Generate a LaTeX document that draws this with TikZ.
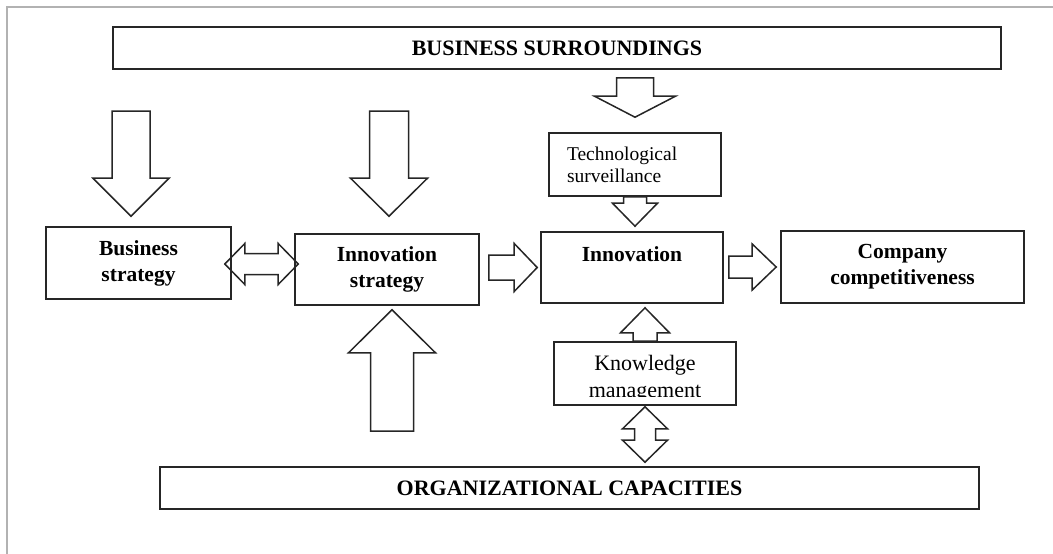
\documentclass[tikz,border=0pt]{standalone}
\usepackage{fontspec}
\setmainfont{Liberation Serif}
\usetikzlibrary{calc}

\begin{document}
\begin{tikzpicture}[
x=1pt,y=-1pt,
box/.style={rectangle, draw=black!85, line width=1.6pt, inner sep=0pt, align=center},
band/.style={box, minimum height=42pt, font=\fontsize{22}{26}\selectfont\bfseries},
bold/.style={box, font=\fontsize{21.5}{26}\selectfont\bfseries},
frame/.style={draw=gray!60, line width=1.2pt},
fat/.style args={#1/#2/#3}{draw=black!85, line width=1.5pt, line join=miter, to path={
  ($(\tikztostart)!#1!90:(\tikztotarget)$)
  -- ($($(\tikztotarget)!#3!(\tikztostart)$)!#1!90:(\tikztotarget)$)
  -- ($($(\tikztotarget)!#3!(\tikztostart)$)!#2!90:(\tikztotarget)$)
  -- (\tikztotarget)
  -- ($($(\tikztotarget)!#3!(\tikztostart)$)!#2!-90:(\tikztotarget)$)
  -- ($($(\tikztotarget)!#3!(\tikztostart)$)!#1!-90:(\tikztotarget)$)
  -- ($(\tikztostart)!#1!-90:(\tikztotarget)$) -- cycle}},
fatboth/.style args={#1/#2/#3}{draw=black!85, line width=1.5pt, line join=miter, to path={
  (\tikztostart)
  -- ($($(\tikztostart)!#3!(\tikztotarget)$)!#2!90:(\tikztotarget)$)
  -- ($($(\tikztostart)!#3!(\tikztotarget)$)!#1!90:(\tikztotarget)$)
  -- ($($(\tikztotarget)!#3!(\tikztostart)$)!#1!90:(\tikztotarget)$)
  -- ($($(\tikztotarget)!#3!(\tikztostart)$)!#2!90:(\tikztotarget)$)
  -- (\tikztotarget)
  -- ($($(\tikztotarget)!#3!(\tikztostart)$)!#2!-90:(\tikztotarget)$)
  -- ($($(\tikztotarget)!#3!(\tikztostart)$)!#1!-90:(\tikztotarget)$)
  -- ($($(\tikztostart)!#3!(\tikztotarget)$)!#1!-90:(\tikztotarget)$)
  -- ($($(\tikztostart)!#3!(\tikztotarget)$)!#2!-90:(\tikztotarget)$)
  -- cycle}},
]
\useasboundingbox (0,0) rectangle (1053,554);
\draw[frame] (1053,7) -- (7,7) -- (7,554);

%boxes
\node (surr)    [band, minimum width=888pt] at (557,48) {BUSINESS SURROUNDINGS};
\node (orgcap)  [band, minimum width=819pt] at (569.5,488) {ORGANIZATIONAL CAPACITIES};
\node (bstrat)  [bold, minimum width=185pt, minimum height=72pt] at (138.5,263) {Business\\strategy};
\node (istrat)  [bold, minimum width=184pt, minimum height=71pt] at (387,269.5) {Innovation\\strategy};
\node (innov)   [bold, minimum width=182pt, minimum height=71pt] at (632,267.5) {Innovation\\~};
\node (company) [bold, minimum width=243pt, minimum height=72pt] at (902.5,267) {Company\\competitiveness};
\node (tech)    [box, minimum width=172pt, minimum height=63pt, text width=136pt, align=left,
                 font=\fontsize{19.5}{22}\selectfont] at (635,164.5) {Technological\\surveillance};
\node (kbox)    [box, minimum width=182pt, minimum height=63pt] at (645,373.5) {};
\begin{scope}
\clip ($(kbox.north west)+(2,2)$) rectangle ($(kbox.south east)+(-2,-9)$);
\node (ktext) [align=center, font=\fontsize{22}{27}\selectfont] at ($(kbox)+(0,5)$) {Knowledge\\management};
\end{scope}

%free ends
\coordinate (bsin) at (131,111);
\coordinate (isin) at (389,111);
\coordinate (isup) at (392,431);

%block arrows
\draw[fat=18.5pt/40.5pt/21pt] ($(surr.south)+(78,8)$) to ($(tech.north)+(0,-15)$);
\draw[fat=11.5pt/22.5pt/23pt] (tech.south) to ($(innov.north)+(3,-5)$);
\draw[fat=19pt/38pt/38pt] (bsin) to ($(bstrat.north)+(-7.5,-10)$);
\draw[fat=19.5pt/38.5pt/38pt] (isin) to ($(istrat.north)+(2,-17)$);
\draw[fat=21.5pt/43.5pt/43pt] (isup) to ($(istrat.south)+(5,4)$);
\draw[fat=12.5pt/24pt/23pt] ($(istrat.east)+(9,-2)$) to ($(innov.west)+(-3,0)$);
\draw[fat=11pt/23pt/24pt] ($(innov.east)+(5,-0.5)$) to ($(company.west)+(-4,0)$);
\draw[fat=12pt/24.5pt/25pt] (kbox.north) to ($(innov.south)+(13,4)$);
\draw[fatboth=10.5pt/20.5pt/20pt] ($(bstrat.east)+(-7,1)$) to ($(istrat.west)+(4,-5.5)$);
\draw[fatboth=10.5pt/22.5pt/22pt] ($(kbox.south)+(0,1)$) to ($(orgcap.north)+(75.5,-4)$);

\end{tikzpicture}
\end{document}
